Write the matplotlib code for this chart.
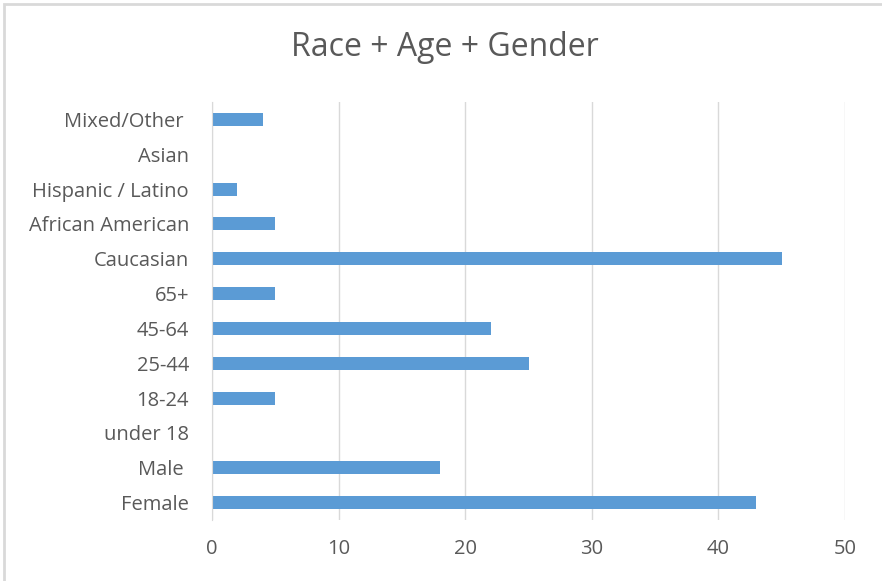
import matplotlib.pyplot as plt
from matplotlib.patches import Rectangle

# categories bottom -> top, as they are drawn
labels = ['Female', 'Male ', 'under 18', '18-24', '25-44', '45-64', '65+',
          'Caucasian', 'African American', 'Hispanic / Latino', 'Asian', 'Mixed/Other ']
counts = [43, 18, 0, 5, 25, 22, 5, 45, 5, 2, 0, 4]
xticks = [0, 10, 20, 30, 40, 50]

bar_color = '#5b9bd5'
grid_color = '#d9d9d9'
text_color = '#595959'
font = ['Open Sans', 'DejaVu Sans']

fig = plt.figure(figsize=(8.82, 5.81), dpi=100)
ax = fig.add_axes([212/882, 1 - 520/581, (845 - 212)/882, (520 - 102)/581])

pos = list(range(len(labels)))
ax.barh(pos, counts, height=0.37, color=bar_color, zorder=3)

ax.set_xlim(0, 50)
ax.set_ylim(-0.5, len(labels) - 0.5)
ax.set_xticks(xticks)
ax.set_xticklabels([str(t) for t in xticks], family=font, fontsize=14.5, color=text_color)
ax.set_yticks(pos)
ax.set_yticklabels(labels, family=font, fontsize=14.5, color=text_color)
ax.tick_params(axis='both', length=0)
ax.tick_params(axis='y', pad=16.5)
ax.tick_params(axis='x', pad=14)

ax.grid(axis='x', color=grid_color, linewidth=1, zorder=0)
for side in ['top', 'right', 'bottom']:
    ax.spines[side].set_visible(False)
ax.spines['left'].set_color(grid_color)
ax.spines['left'].set_zorder(4)

fig.text(445/882, 1 - 48/581, 'Race + Age + Gender', family=font, fontsize=23,
         color=text_color, ha='center', va='center')

# outer chart frame (only top and left edges show)
fig.patches.append(Rectangle((3.5/882, -0.1), 1.1, 1 - 3.5/581 + 0.1,
                             transform=fig.transFigure, fill=False,
                             edgecolor='#d9d9d9', linewidth=2))

fig.savefig('out.png', dpi=100)
